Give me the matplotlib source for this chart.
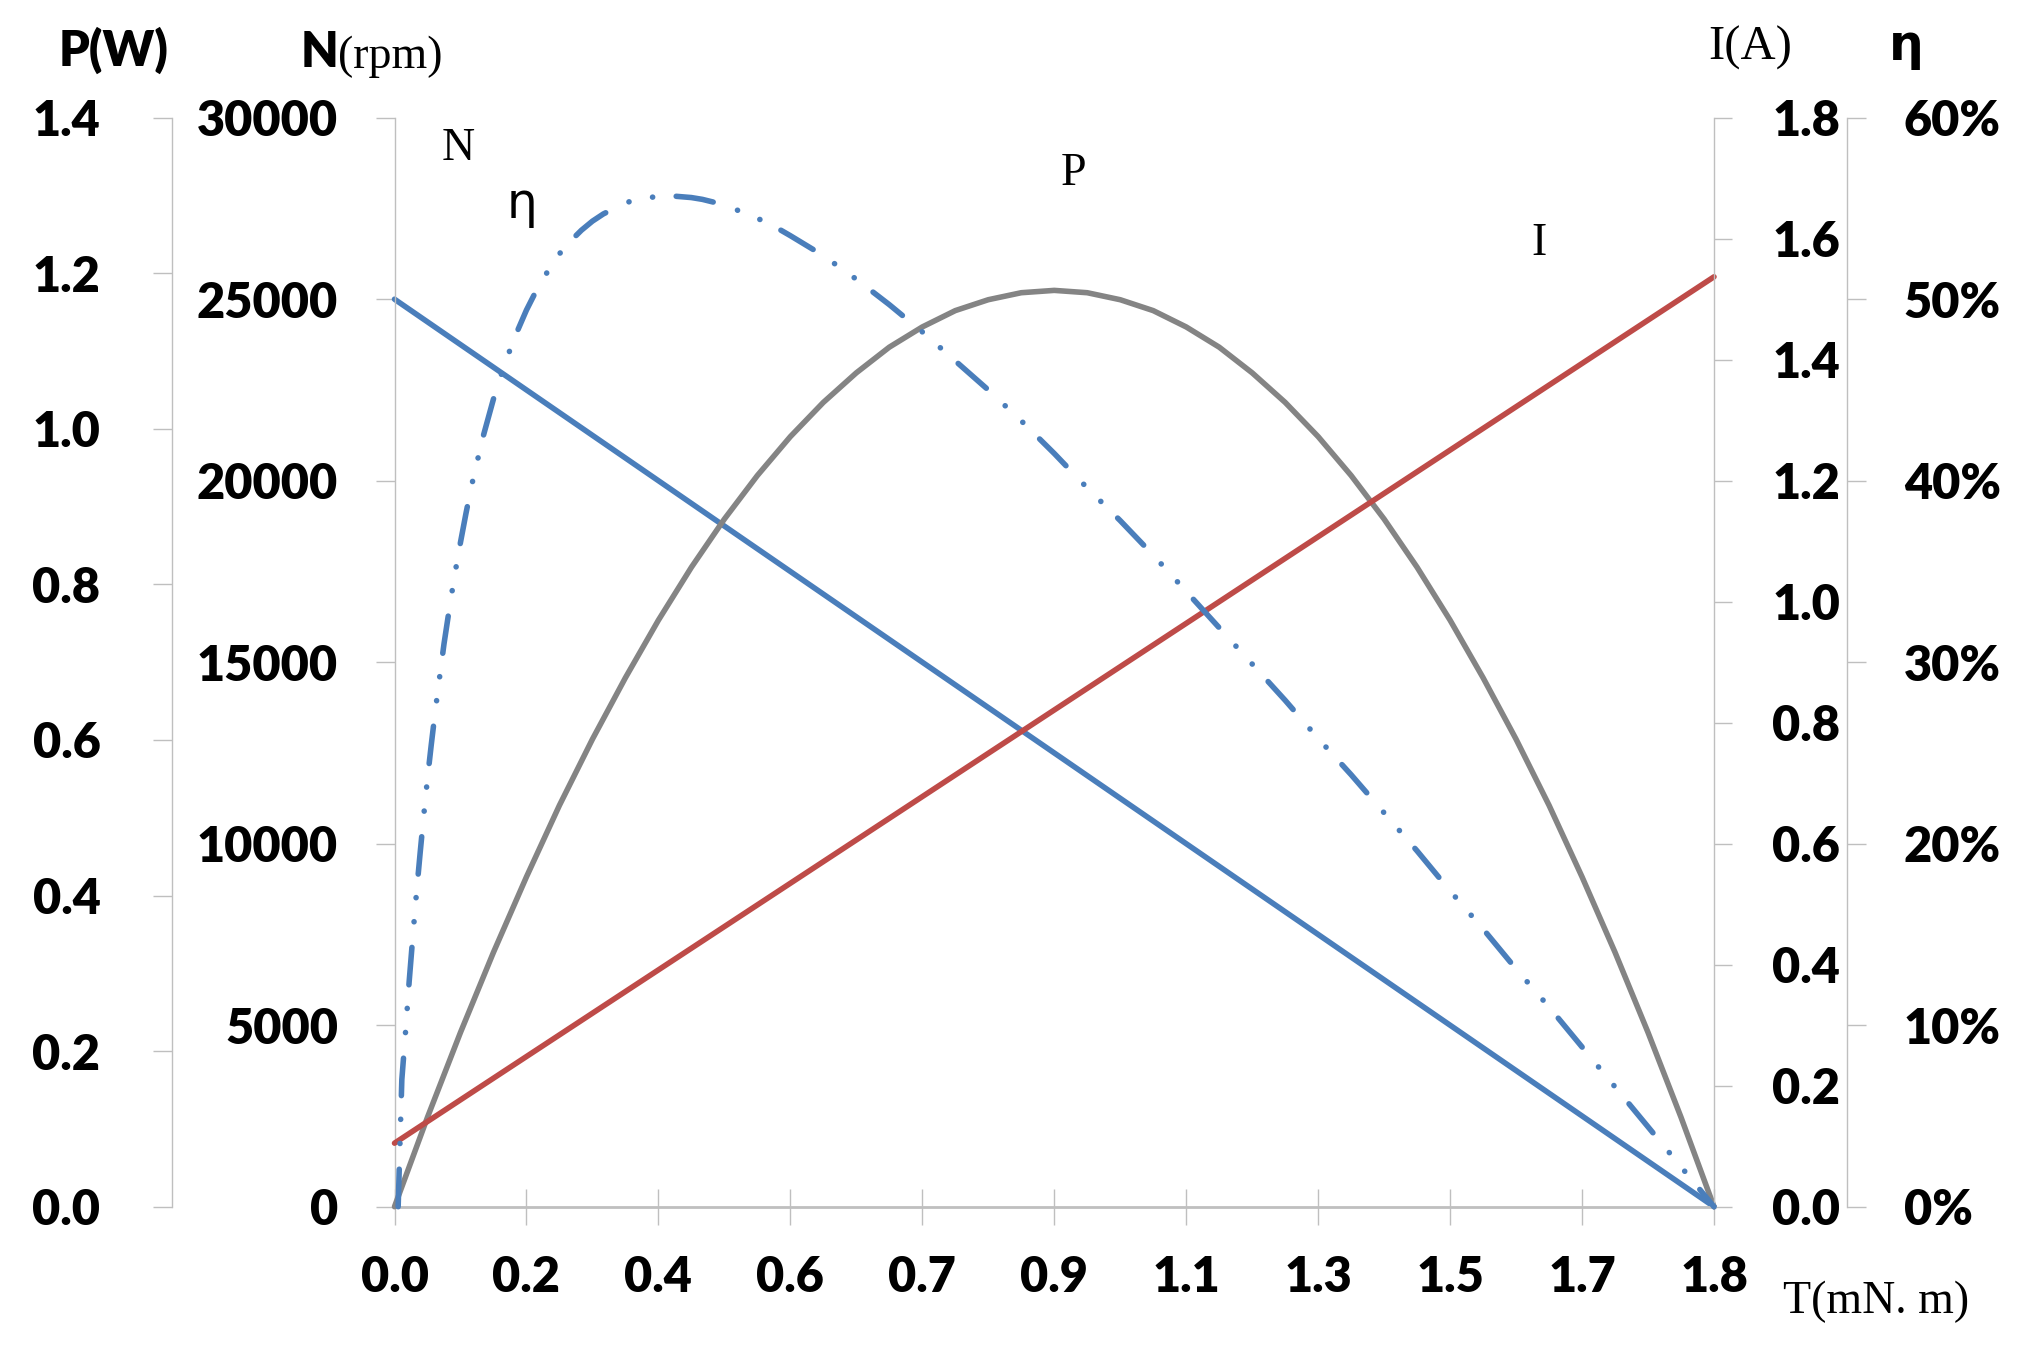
import matplotlib
matplotlib.use("Agg")
import matplotlib.pyplot as plt
from matplotlib.ticker import FixedLocator, FixedFormatter

# ---------------- data ----------------
x_ticks = [0.0, 0.18, 0.36, 0.54, 0.72, 0.90, 1.08, 1.26, 1.44, 1.62, 1.80]
x_tick_labels = ['0.0', '0.2', '0.4', '0.6', '0.7', '0.9', '1.1', '1.3', '1.5', '1.7', '1.8']

# speed N (rpm)
T_N = [0.0, 1.8]
N_rpm = [25000, 0]

# current I (A)
T_I = [0.0, 1.8]
I_amp = [0.105, 1.537]

# output power P (W)
T_P = [0.0, 0.045, 0.09, 0.135, 0.18, 0.225, 0.27, 0.315, 0.36, 0.405, 0.45,
       0.495, 0.54, 0.585, 0.63, 0.675, 0.72, 0.765, 0.81, 0.855, 0.90,
       0.945, 0.99, 1.035, 1.08, 1.125, 1.17, 1.215, 1.26, 1.305, 1.35,
       1.395, 1.44, 1.485, 1.53, 1.575, 1.62, 1.665, 1.71, 1.755, 1.80]
P_watt = [0.0, 0.115, 0.224, 0.327, 0.424, 0.516, 0.601, 0.680, 0.754, 0.822, 0.884,
          0.940, 0.990, 1.034, 1.072, 1.105, 1.131, 1.152, 1.166, 1.175, 1.178,
          1.175, 1.166, 1.152, 1.131, 1.105, 1.072, 1.034, 0.990, 0.940, 0.884,
          0.822, 0.754, 0.680, 0.601, 0.516, 0.424, 0.327, 0.224, 0.115, 0.0]

# efficiency eta (%)
T_eta = [0.005, 0.01, 0.015, 0.02, 0.025, 0.03, 0.035, 0.04, 0.045, 0.05, 0.055,
         0.06, 0.0675, 0.075, 0.0825, 0.09, 0.0975, 0.105, 0.12, 0.135, 0.15,
         0.165, 0.18, 0.195, 0.21, 0.225, 0.24, 0.255, 0.27, 0.285, 0.30,
         0.315, 0.33, 0.345, 0.36, 0.375, 0.39, 0.405, 0.42, 0.435, 0.45,
         0.48, 0.51, 0.54, 0.585, 0.63, 0.675, 0.72, 0.765, 0.81, 0.855,
         0.90, 0.945, 0.99, 1.035, 1.08, 1.125, 1.17, 1.215, 1.26, 1.305,
         1.35, 1.395, 1.44, 1.485, 1.53, 1.575, 1.62, 1.665, 1.71, 1.755, 1.80]
eta_pct = [0.0, 7.0, 9.6, 12.4, 14.9, 17.3, 19.5, 21.6, 23.6, 25.4, 27.1,
           28.7, 31.0, 33.0, 34.9, 36.6, 38.2, 39.7, 42.3, 44.5, 46.4,
           48.0, 49.4, 50.6, 51.6, 52.5, 53.2, 53.8, 54.3, 54.7, 55.0,
           55.3, 55.5, 55.6, 55.65, 55.7, 55.65, 55.6, 55.5, 55.35, 55.2,
           54.7, 54.2, 53.5, 52.4, 51.1, 49.7, 48.2, 46.6, 45.0, 43.3,
           41.5, 39.6, 37.8, 35.9, 33.9, 31.9, 29.9, 27.9, 25.8, 23.8,
           21.7, 19.6, 17.4, 15.3, 13.1, 11.0, 8.8, 6.6, 4.4, 2.2, 0.0]

P_ticks = [0.0, 0.2, 0.4, 0.6, 0.8, 1.0, 1.2, 1.4]
N_ticks = [0, 5000, 10000, 15000, 20000, 25000, 30000]
I_ticks = [0.0, 0.2, 0.4, 0.6, 0.8, 1.0, 1.2, 1.4, 1.6, 1.8]
eta_ticks = [0, 10, 20, 30, 40, 50, 60]

# ---------------- style ----------------
plt.rcParams['font.family'] = ['Lato', 'DejaVu Sans']
plt.rcParams['font.weight'] = 'heavy'
plt.rcParams['lines.scale_dashes'] = False

W, H = 2028, 1360
BLUE = '#4A7EBB'
RED = '#BE4B48'
GRAY = '#848484'
AXC = '#BFBFBF'
TICK_FS = 35
LW = 4.0

fig = plt.figure(figsize=(W / 100, H / 100), dpi=100)
x0, x1, ytop, ybot = 394.5, 1714.0, 117.7, 1206.7
ax = fig.add_axes([x0 / W, 1 - ybot / H, (x1 - x0) / W, (ybot - ytop) / H])
axP = ax.twinx()
axI = ax.twinx()
axE = ax.twinx()

for a in (ax, axP, axI, axE):
    a.set_xlim(0, 1.8)
    a.patch.set_visible(False)
    for s in a.spines.values():
        s.set_visible(False)
        s.set_color(AXC)
        s.set_linewidth(1.0)

ax.set_ylim(0, 30000)
axP.set_ylim(0, 1.4)
axI.set_ylim(0, 1.8)
axE.set_ylim(0, 60)

# spines
ax.spines['left'].set_visible(True)
ax.spines['bottom'].set_visible(True)
ax.spines['bottom'].set_linewidth(2.0)
axP.spines['left'].set_visible(True)
axP.spines['left'].set_position(('outward', 160))
axP.yaxis.set_ticks_position('left')
axP.yaxis.set_label_position('left')
axI.spines['right'].set_visible(True)
axE.spines['right'].set_visible(True)
axE.spines['right'].set_position(('outward', 96))

# ticks
ax.xaxis.set_major_locator(FixedLocator(x_ticks))
ax.xaxis.set_major_formatter(FixedFormatter(x_tick_labels))
ax.tick_params(axis='x', direction='inout', length=26, width=1, color=AXC,
               pad=22, labelsize=TICK_FS)
for a in (axP, axI, axE):
    a.tick_params(axis='x', bottom=False, labelbottom=False, top=False, labeltop=False)

ax.yaxis.set_major_locator(FixedLocator(N_ticks))
ax.yaxis.set_major_formatter(FixedFormatter([str(v) for v in N_ticks]))
ax.tick_params(axis='y', direction='out', length=13.7, width=1, color=AXC,
               pad=27, labelsize=TICK_FS, left=True, right=False)

axP.yaxis.set_major_locator(FixedLocator(P_ticks))
axP.yaxis.set_major_formatter(FixedFormatter(['%.1f' % v for v in P_ticks]))
axP.tick_params(axis='y', direction='out', length=13.7, width=1, color=AXC,
                pad=38, labelsize=TICK_FS, left=True, right=False,
                labelleft=True, labelright=False)

axI.yaxis.set_major_locator(FixedLocator(I_ticks))
axI.yaxis.set_major_formatter(FixedFormatter(['%.1f' % v for v in I_ticks]))
axI.tick_params(axis='y', direction='out', length=13, width=1, color=AXC,
                pad=29, labelsize=TICK_FS)

axE.yaxis.set_major_locator(FixedLocator(eta_ticks))
axE.yaxis.set_major_formatter(FixedFormatter(['%d%%' % v for v in eta_ticks]))
axE.tick_params(axis='y', direction='out', length=13.7, width=1, color=AXC,
                pad=27, labelsize=TICK_FS)

# ---------------- lines ----------------
axP.plot(T_P, P_watt, color=GRAY, lw=LW, solid_capstyle='round',
         solid_joinstyle='round', clip_on=False)
axI.plot(T_I, I_amp, color=RED, lw=LW, solid_capstyle='round', clip_on=False)
axE.plot(T_eta, eta_pct, color=BLUE, lw=LW, dash_capstyle='round',
         dash_joinstyle='round',
         linestyle=(0, (27.0, 18.5, 0.1, 17.3, 0.1, 17.0)), clip_on=False)
ax.plot(T_N, N_rpm, color=BLUE, lw=LW, solid_capstyle='round', clip_on=False)

# ---------------- texts ----------------
def fx(px):
    return px / W

def fy(py):
    return 1 - py / H

SERIF = ['Liberation Serif', 'DejaVu Serif']
GREEK = ['DejaVu Sans']

fig.text(fx(114), fy(66), 'P(W)', ha='center', va='baseline', fontsize=35, weight='heavy')
fig.text(fx(338), fy(67), 'N', ha='right', va='baseline', fontsize=35, weight='heavy')
fig.text(fx(338), fy(68), '(rpm)', ha='left', va='baseline', fontsize=33,
         family=SERIF, weight='normal')
fig.text(fx(1750), fy(60), 'I(A)', ha='center', va='baseline', fontsize=35,
         family=SERIF, weight='normal')
fig.text(fx(1906), fy(60), 'η', ha='center', va='baseline', fontsize=35,
         family=GREEK, weight='bold')

fig.text(fx(458), fy(160), 'N', ha='center', va='baseline', fontsize=33,
         family=SERIF, weight='normal')
fig.text(fx(522), fy(218), 'η', ha='center', va='baseline', fontsize=35,
         family=GREEK, weight='normal')
fig.text(fx(1073), fy(185), 'P', ha='center', va='baseline', fontsize=33,
         family=SERIF, weight='normal')
fig.text(fx(1539), fy(255), 'I', ha='center', va='baseline', fontsize=33,
         family=SERIF, weight='normal')
fig.text(fx(1876), fy(1313), 'T(mN. m)', ha='center', va='baseline', fontsize=33,
         family=SERIF, weight='normal')

fig.savefig('out.png', dpi=100)
